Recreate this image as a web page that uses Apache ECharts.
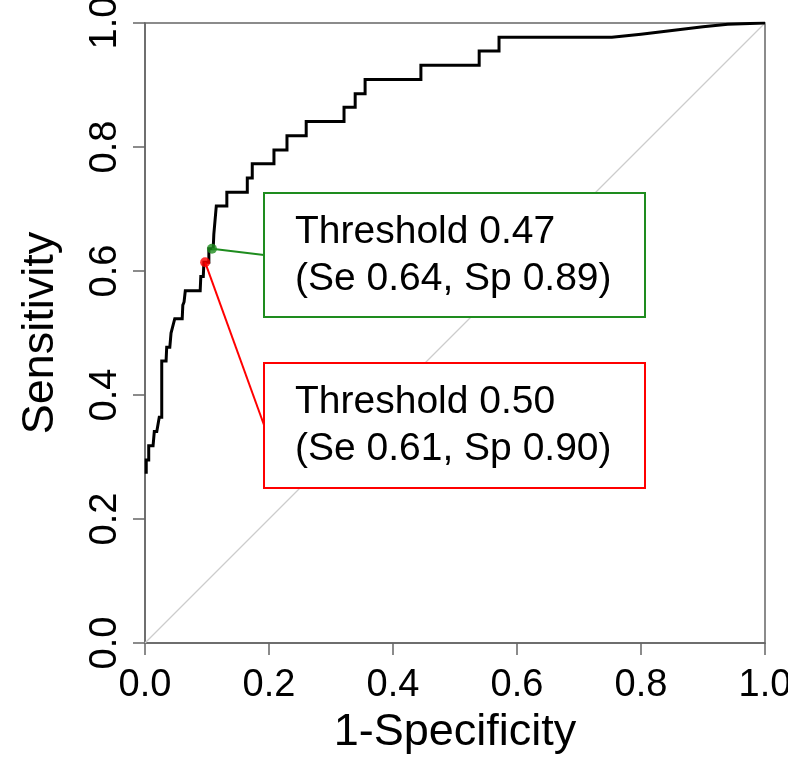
<!DOCTYPE html>
<html>
<head>
<meta charset="utf-8">
<script src="https://cdn.jsdelivr.net/npm/echarts@6/dist/echarts.min.js"></script>
<style>
html,body{margin:0;padding:0;background:#fff;}
#c{width:788px;height:781px;}
</style>
</head>
<body>
<div id="c"></div>
<script>
// ---- data ----
const xTicks = [0, 0.2, 0.4, 0.6, 0.8, 1.0];
const yTicks = [0, 0.2, 0.4, 0.6, 0.8, 1.0];
const rocFpr = [0.002,0.002,0.006,0.006,0.013,0.015,0.019,0.023,0.027,0.027,0.034,0.035,0.040,0.042,0.045,0.048,0.052,0.060,0.061,0.063,0.065,0.089,0.090,0.094,0.095,0.103,0.103,0.110,0.111,0.113,0.115,0.132,0.132,0.165,0.165,0.173,0.173,0.208,0.208,0.229,0.229,0.260,0.260,0.321,0.321,0.339,0.339,0.355,0.355,0.445,0.445,0.539,0.539,0.571,0.571,0.753,0.800,0.850,0.900,0.940,1.000];
const rocTpr = [0.273,0.295,0.295,0.318,0.318,0.341,0.341,0.364,0.364,0.455,0.455,0.477,0.477,0.500,0.500,0.523,0.523,0.523,0.545,0.550,0.568,0.568,0.591,0.591,0.614,0.614,0.636,0.636,0.659,0.682,0.705,0.705,0.727,0.727,0.750,0.750,0.773,0.773,0.795,0.795,0.818,0.818,0.841,0.841,0.864,0.864,0.886,0.886,0.909,0.909,0.932,0.932,0.955,0.955,0.977,0.977,0.982,0.988,0.994,0.998,1.000];
const chanceLine = [[0,0],[1,1]];
const thresholdNames = ['Threshold 0.47', 'Threshold 0.50'];
const thresholdDetails = ['(Se 0.64, Sp 0.89)', '(Se 0.61, Sp 0.90)'];
const thresholdPoints = [[0.108, 0.636], [0.097, 0.614]];

const GREEN = '#1e8c1e', RED = '#ff0000';
const FONT = 'Liberation Sans, Arial, sans-serif';
const AX = '#666666';

const rocData = rocFpr.map((x, i) => [x, rocTpr[i]]);

const chart = echarts.init(document.getElementById('c'), null, {renderer: 'canvas'});
const option = {
  animation: false,
  backgroundColor: '#fff',
  grid: {left: 145, right: 23, top: 23, bottom: 138, containLabel: false, outerBoundsMode: 'none',
         show: true, borderColor: AX, borderWidth: 1.5, backgroundColor: 'transparent'},
  xAxis: {
    type: 'value', min: 0, max: 1, interval: 0.2,
    name: '1-Specificity', nameLocation: 'middle', nameGap: 52,
    nameTextStyle: {fontSize: 45, color: '#000', fontFamily: FONT},
    axisLine: {show: true, onZero: false, lineStyle: {color: AX, width: 1.5}},
    axisTick: {show: true, length: 12, lineStyle: {color: AX, width: 1.5}},
    axisLabel: {fontSize: 38, color: '#000', fontFamily: FONT, margin: 24, formatter: v => v.toFixed(1)},
    splitLine: {show: false}
  },
  yAxis: {
    type: 'value', min: 0, max: 1, interval: 0.2,
    name: 'Sensitivity', nameLocation: 'middle', nameGap: 82,
    nameTextStyle: {fontSize: 45, color: '#000', fontFamily: FONT},
    axisLine: {show: true, onZero: false, lineStyle: {color: AX, width: 1.5}},
    axisTick: {show: true, length: 12, lineStyle: {color: AX, width: 1.5}},
    axisLabel: {fontSize: 38, color: '#000', fontFamily: FONT, margin: 20, rotate: 90, formatter: v => v.toFixed(1)},
    splitLine: {show: false}
  },
  series: [
    {type: 'line', data: chanceLine, showSymbol: false, silent: true, lineStyle: {color: '#cccccc', width: 1.3}, z: 1},
    {type: 'line', data: rocData, showSymbol: false, silent: true, lineStyle: {color: '#000', width: 3, join: 'miter'}, z: 3},
    {type: 'scatter', data: [thresholdPoints[0]], symbolSize: 10, itemStyle: {color: GREEN}, z: 5, silent: true},
    {type: 'scatter', data: [thresholdPoints[1]], symbolSize: 10, itemStyle: {color: RED}, z: 5, silent: true}
  ]
};
chart.setOption(option);

const gp = chart.convertToPixel({gridIndex: 0}, thresholdPoints[0]);
const rp = chart.convertToPixel({gridIndex: 0}, thresholdPoints[1]);
const boxes = [
  {x: 264, y: 193, w: 381, h: 124, color: GREEN, anchor: [264, 255], pt: gp},
  {x: 264, y: 363, w: 381, h: 125, color: RED, anchor: [264, 425], pt: rp}
];
const graphics = [];
boxes.forEach((b, i) => {
  graphics.push({type: 'line', shape: {x1: b.pt[0], y1: b.pt[1], x2: b.anchor[0], y2: b.anchor[1]}, style: {stroke: b.color, lineWidth: 2}, z: 4});
  graphics.push({type: 'rect', shape: {x: b.x, y: b.y, width: b.w, height: b.h}, style: {fill: '#fff', stroke: b.color, lineWidth: 2}, z: 6});
  graphics.push({type: 'text', x: 295, y: b.y + 39, style: {text: thresholdNames[i], fontSize: 39, fontFamily: FONT, fill: '#000', verticalAlign: 'middle', align: 'left'}, z: 7});
  graphics.push({type: 'text', x: 295, y: b.y + 86, style: {text: thresholdDetails[i], fontSize: 39, fontFamily: FONT, fill: '#000', verticalAlign: 'middle', align: 'left'}, z: 7});
});
chart.setOption({graphic: graphics});
</script>
</body>
</html>
